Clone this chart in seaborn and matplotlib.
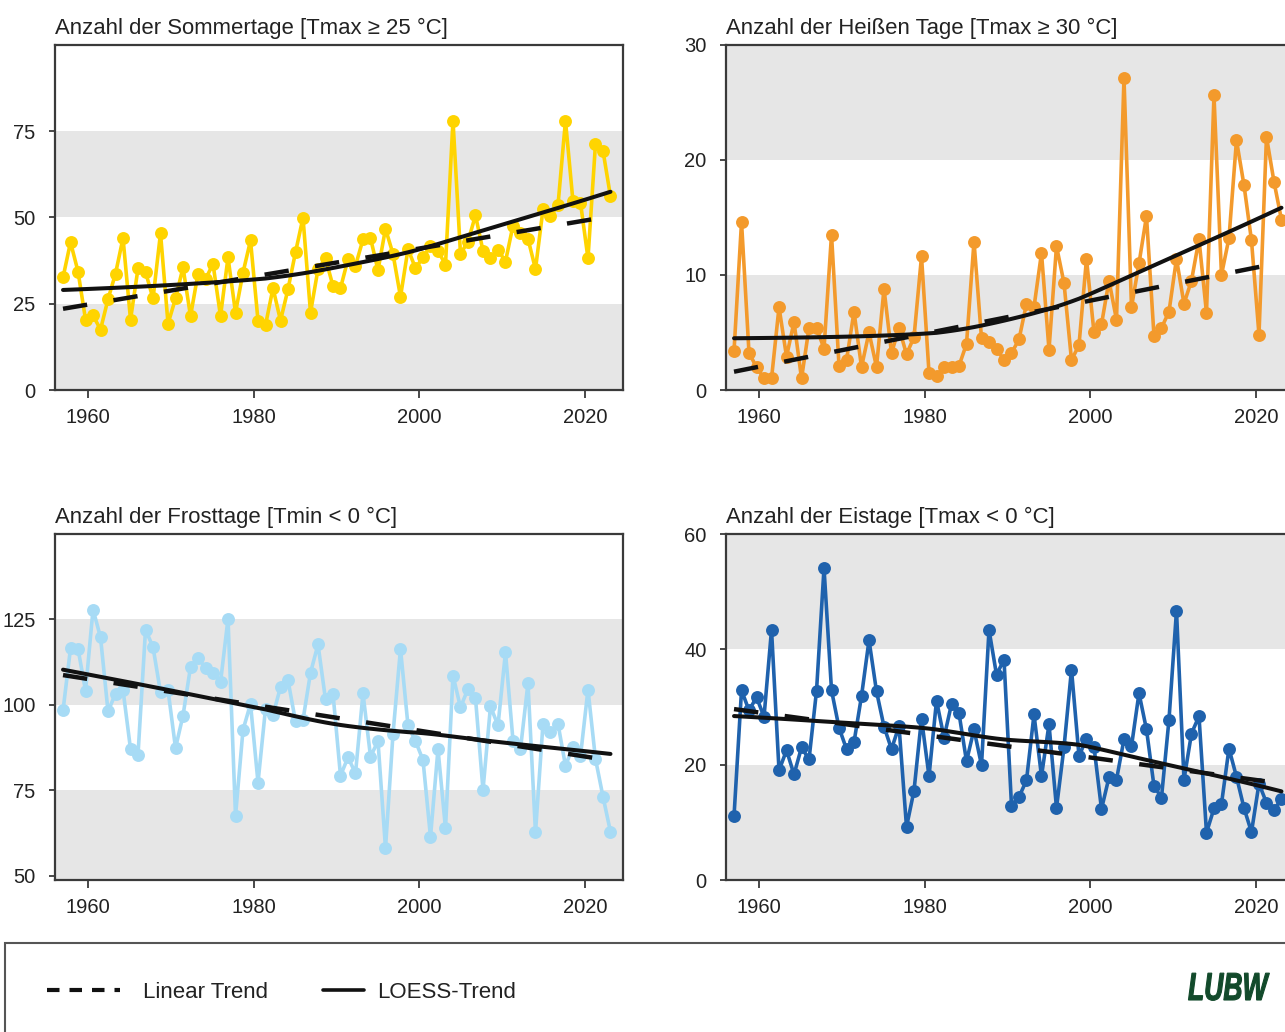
import numpy as np
import pandas as pd
import matplotlib
matplotlib.use("Agg")
import matplotlib.pyplot as plt
from matplotlib.lines import Line2D
from matplotlib.textpath import TextPath
from matplotlib.patches import PathPatch
from matplotlib.font_manager import FontProperties
from matplotlib.transforms import Affine2D
import seaborn as sns

# ── Data (1951–2024) ─────────────────────────────────────────────────────────
YEARS = np.arange(1951, 2025)

SOMMERTAGE = [32.6, 42.8, 34.3, 20.4, 21.6, 17.5, 26.3, 33.7, 44.0, 20.4,
              35.2, 34.2, 26.5, 45.4, 19.2, 26.5, 35.5, 21.4, 33.7, 32.1,
              36.5, 21.4, 38.4, 22.4, 34.0, 43.3, 20.1, 18.8, 29.5, 20.1,
              29.2, 39.9, 49.9, 22.4, 35.0, 38.1, 30.1, 29.5, 37.9, 36.0,
              43.6, 44.0, 34.7, 46.7, 39.4, 27.0, 40.8, 35.3, 38.4, 41.8,
              40.3, 36.3, 78.0, 39.4, 43.0, 50.6, 40.3, 38.3, 40.6, 37.2,
              47.6, 45.5, 43.8, 35.0, 52.3, 50.4, 53.5, 78.0, 54.6, 54.3,
              38.1, 71.3, 69.3, 56.1]

HEISSE_TAGE = [3.4, 14.6, 3.2, 2.0, 1.0, 1.0, 7.2, 2.9, 5.9, 1.0,
               5.4, 5.4, 3.6, 13.5, 2.1, 2.6, 6.8, 2.0, 5.0, 2.0,
               8.8, 3.2, 5.4, 3.1, 4.6, 11.6, 1.5, 1.2, 2.0, 2.0,
               2.1, 4.0, 12.9, 4.5, 4.2, 3.6, 2.6, 3.2, 4.4, 7.5,
               7.2, 11.9, 3.5, 12.5, 9.3, 2.6, 3.9, 11.4, 5.0, 5.7,
               9.5, 6.1, 27.1, 7.2, 11.0, 15.1, 4.7, 5.4, 6.8, 11.4,
               7.5, 9.5, 13.1, 6.7, 25.6, 10.0, 13.2, 21.7, 17.8, 13.0,
               4.8, 22.0, 18.1, 14.8]

FROSTTAGE = [98.4, 116.6, 116.4, 104.2, 127.9, 119.8, 98.1, 103.3, 104.4, 87.1,
             85.5, 122.0, 116.9, 103.7, 104.4, 87.4, 96.9, 111.1, 113.7, 110.8,
             109.3, 106.6, 125.2, 67.6, 92.7, 100.3, 77.3, 98.9, 97.1, 105.2,
             107.2, 95.2, 95.6, 109.4, 117.7, 101.6, 103.3, 79.3, 84.7, 80.0,
             103.4, 84.9, 89.4, 58.1, 91.5, 116.4, 94.0, 89.4, 83.9, 61.4,
             87.1, 63.9, 108.6, 99.3, 104.7, 102.0, 75.1, 99.6, 94.0, 115.4,
             89.6, 87.1, 106.4, 62.7, 94.5, 92.0, 94.5, 82.2, 87.8, 85.0,
             104.5, 84.2, 73.2, 62.9]

EISTAGE = [11.1, 32.9, 29.4, 31.7, 28.3, 43.4, 19.0, 22.5, 18.3, 23.0,
           20.9, 32.8, 54.1, 32.9, 26.4, 22.7, 23.9, 31.9, 41.6, 32.7,
           26.6, 22.7, 26.7, 9.2, 15.5, 28.0, 18.0, 31.1, 24.7, 30.5,
           28.9, 20.6, 26.1, 19.9, 43.4, 35.6, 38.2, 12.9, 14.4, 17.3,
           28.7, 18.0, 27.0, 12.5, 23.0, 36.5, 21.5, 24.5, 23.1, 12.3,
           17.8, 17.4, 24.4, 23.2, 32.4, 26.1, 16.3, 14.3, 27.8, 46.7,
           17.4, 25.4, 28.4, 8.2, 12.4, 13.2, 22.8, 17.9, 12.5, 8.3,
           16.7, 13.4, 12.2, 14.0]

TITLES = ["Anzahl der Sommertage [Tmax \u2265 25 °C]",
          "Anzahl der Heißen Tage [Tmax \u2265 30 °C]",
          "Anzahl der Frosttage [Tmin < 0 °C]",
          "Anzahl der Eistage [Tmax < 0 °C]"]

# x tick labels sit where the reference draws them
XTICK_POS    = [1954.3, 1976.4, 1998.5, 2020.6]
XTICK_LABELS = ["1960", "1980", "2000", "2020"]

# ── Style ─────────────────────────────────────────────────────────────────────
COLORS = ["#FFD400", "#F39A2C", "#A7DBF5", "#1F62AD"]
BAND   = "#E6E6E6"
SPINE  = "#3A3A3A"
TEXT   = "#222222"
FS     = 14.5
FS_TTL = 15.9


def loess(x, y, span=0.75, degree=1):
    x = np.asarray(x, float)
    y = np.asarray(y, float)
    q = int(np.floor(span * len(x)))
    fit = []
    for x0 in x:
        d = np.abs(x - x0)
        h = np.sort(d)[q - 1]
        w = np.clip(1 - (d / h) ** 3, 0, None) ** 3
        X = np.vander(x - x0, degree + 1)
        sw = np.sqrt(w)
        beta = np.linalg.lstsq(X * sw[:, None], y * sw, rcond=None)[0]
        fit.append(beta[-1])
    return np.array(fit)


def theil_sen(x, y):
    x = np.asarray(x, float)
    y = np.asarray(y, float)
    i, j = np.triu_indices(len(x), 1)
    slope = np.median((y[j] - y[i]) / (x[j] - x[i]))
    icpt = np.median(y - slope * x)
    return slope * x + icpt


def draw_panel(ax, values, color, title, ylim, yticks):
    lo, hi = ylim
    # alternating grey / white bands, grey at the bottom
    bounds = [lo] + list(yticks[1:]) + [hi]
    for k in range(len(bounds) - 1):
        if k % 2 == 0 and bounds[k + 1] > bounds[k]:
            ax.axhspan(bounds[k], bounds[k + 1], color=BAND, lw=0, zorder=0)

    df = pd.DataFrame({"year": YEARS, "value": values})
    sns.lineplot(data=df, x="year", y="value", ax=ax, color=color,
                 linewidth=2.6, marker="o", markersize=9.3,
                 markeredgewidth=0, zorder=3)

    ax.plot(YEARS, theil_sen(YEARS, values), color="#111111", lw=3.2,
            dashes=(5.5, 6.0), zorder=4, dash_capstyle="butt")
    ax.plot(YEARS, loess(YEARS, values), color="#111111", lw=2.9, zorder=5)

    ax.set_xlim(1949.93, 2025.67)
    ax.set_ylim(lo, hi)
    ax.set_xticks(XTICK_POS, XTICK_LABELS)
    ax.set_yticks(yticks)
    ax.set_xlabel("")
    ax.set_ylabel("")
    ax.set_title(title, loc="left", fontsize=FS_TTL, color=TEXT, pad=8)
    ax.tick_params(axis="x", length=6, width=1.3, color=SPINE,
                   labelsize=FS, labelcolor=TEXT, pad=7)
    ax.tick_params(axis="y", length=4, width=1.3, color=SPINE,
                   labelsize=FS, labelcolor=TEXT, pad=10)
    for sp in ax.spines.values():
        sp.set_color(SPINE)
        sp.set_linewidth(1.6)
        sp.set_visible(True)
    ax.set_facecolor("white")


sns.set_theme(style="ticks")
plt.rcParams["font.family"] = ["Liberation Sans", "DejaVu Sans"]

W, H = 1285, 1032
fig = plt.figure(figsize=(W / 100, H / 100), dpi=100)


def add_axes(left_px, top_px, bottom_px, width_px=568):
    return fig.add_axes([left_px / W, 1 - bottom_px / H,
                         width_px / W, (bottom_px - top_px) / H])


ax1 = add_axes(55, 44.7, 390)
ax2 = add_axes(726, 44.7, 390)
ax3 = add_axes(55, 534, 880)
ax4 = add_axes(726, 534, 880)

draw_panel(ax1, SOMMERTAGE, COLORS[0], TITLES[0], (0, 100), [0, 25, 50, 75])
draw_panel(ax2, HEISSE_TAGE, COLORS[1], TITLES[1], (0, 30), [0, 10, 20, 30])
draw_panel(ax3, FROSTTAGE, COLORS[2], TITLES[2], (48.8, 150), [50, 75, 100, 125])
draw_panel(ax4, EISTAGE, COLORS[3], TITLES[3], (0, 60), [0, 20, 40, 60])

# ── Legend box at the bottom ─────────────────────────────────────────────────
fig.add_artist(plt.Rectangle((5 / W, -0.01), 1.0, (1032 - 943) / H + 0.01,
                             transform=fig.transFigure, fill=False,
                             edgecolor="#555555", lw=1.5))

h_lin = Line2D([], [], color="#111111", lw=3.0, dashes=(3.0, 2.4))
h_loe = Line2D([], [], color="#111111", lw=2.6)
fig.legend([h_lin], ["Linear Trend"], loc="center left",
           bbox_to_anchor=(27 / W, 1 - 992 / H), frameon=False,
           handlelength=3.3, handletextpad=1.0, fontsize=16,
           labelcolor=TEXT)
fig.legend([h_loe], ["LOESS-Trend"], loc="center left",
           bbox_to_anchor=(303 / W, 1 - 992 / H), frameon=False,
           handlelength=1.85, handletextpad=0.6, fontsize=16,
           labelcolor=TEXT)

# condensed, heavy italic logo lettering
logo_font = FontProperties(family="Liberation Sans", weight="bold",
                           style="italic")
tp = TextPath((0, 0), "LUBW", size=39, prop=logo_font)
logo = PathPatch(tp, facecolor="#124A2B", edgecolor="#124A2B", lw=0.8,
                 transform=Affine2D().scale(0.68, 1.0).translate(1188, H - 1000))
fig.add_artist(logo)

fig.savefig("out.png", dpi=100)
